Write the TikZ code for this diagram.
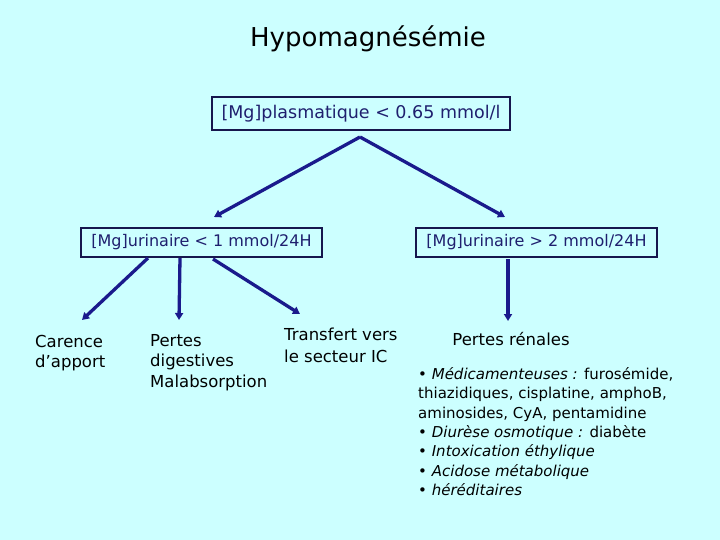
\documentclass[tikz,border=0pt]{standalone}
\usepackage{fontspec}
\setmainfont{DejaVu Sans}
\usetikzlibrary{arrows.meta}
\definecolor{bg}{HTML}{CCFFFF}
\definecolor{navy}{HTML}{1F1F6E}
\definecolor{arrowc}{HTML}{1A1A8C}
\tikzset{
  box/.style={draw=navy!70!black, line width=1.2pt, inner sep=0pt, text=navy,
    font=\fontsize{16}{20}\selectfont, minimum height=29pt},
  arr/.style={draw=arrowc, line width=3.3pt, -{Triangle[length=7pt,width=8pt]}},
  lbl/.style={inner sep=0pt, align=left, font=\fontsize{16.5}{20.5}\selectfont, anchor=north west},
}
\begin{document}
\begin{tikzpicture}[x=1pt,y=-1pt]
\fill[bg] (0,0) rectangle (720,540);
\useasboundingbox (0,0) rectangle (720,540);

\node[inner sep=0pt, font=\fontsize{26}{30}\selectfont] (title) at (368,39) {Hypomagnésémie};

\node[box, minimum width=298pt, minimum height=33pt, font=\fontsize{17.5}{20}\selectfont] (b1) at (361,113.5) {[Mg]plasmatique < 0.65 mmol/l};
\node[box, minimum width=241pt] (b2) at (201.5,242.5) {[Mg]urinaire < 1 mmol/24H};
\node[box, minimum width=241pt] (b3) at (536.5,242.5) {[Mg]urinaire > 2 mmol/24H};

\coordinate (apex) at (360,137);
\coordinate (t2) at (214,217);
\coordinate (t3) at (505,217);
\draw[arr] (apex) -- (t2);
\draw[arr] (apex) -- (t3);

\node[lbl] (carence) at (35,335) {Carence\\d’apport};
\node[lbl] (pertes) at (150,334) {Pertes\\digestives\\Malabsorption};
\node[lbl, font=\fontsize{16.5}{22}\selectfont] (transfert) at (284,328) {Transfert vers\\le secteur IC};
\node[inner sep=0pt, font=\fontsize{16.5}{20.5}\selectfont] (renales) at (511,339) {Pertes rénales};

\coordinate (s1) at (148,258);
\coordinate (s2) at (180,258);
\coordinate (s3) at (213,259);
\coordinate (s4) at (508,259);
\coordinate (e1) at (82,320);
\coordinate (e2) at (179,320);
\coordinate (e3) at (300,314);
\coordinate (e4) at (508,321);
\draw[arr] (s1) -- (e1);
\draw[arr] (s2) -- (e2);
\draw[arr] (s3) -- (e3);
\draw[arr] (s4) -- (e4);

\node[inner sep=0pt, align=left, anchor=north west, font=\fontsize{15}{19.4}\selectfont] (list) at (418,367)
{• \textit{Médicamenteuses :} furosémide,\\
thiazidiques, cisplatine, amphoB,\\
aminosides, CyA, pentamidine\\
• \textit{Diurèse osmotique :} diabète\\
• \textit{Intoxication éthylique}\\
• \textit{Acidose métabolique}\\
• \textit{héréditaires}};
\end{tikzpicture}
\end{document}
